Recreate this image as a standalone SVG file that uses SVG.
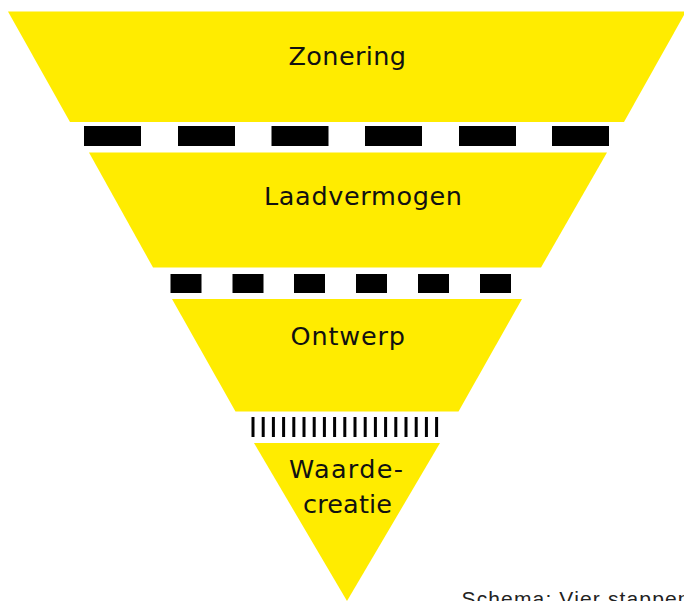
<svg xmlns="http://www.w3.org/2000/svg" width="684" height="601" viewBox="0 0 684 601">
<style>
.stage{fill:#FFEC00;stroke:none}
.lbl{font-family:"DejaVu Sans","Liberation Sans",sans-serif;fill:#111}
.dash{fill:#000}
.cap{font-family:"Liberation Sans","DejaVu Sans",sans-serif;fill:#222}
</style>
<rect width="684" height="601" fill="#fff"/>
<g id="node-zonering">
<polygon class="stage" points="8,11.5 686,11.5 624,122 70,122"/>
<text class="lbl" x="288.5" y="64.5" font-size="25.5" textLength="117.5">Zonering</text>
</g>
<g id="node-laadvermogen">
<polygon class="stage" points="89,152.5 607,152.5 541,267.5 153,267.5"/>
<text class="lbl" x="264" y="204.5" font-size="25.5" textLength="198">Laadvermogen</text>
</g>
<g id="node-ontwerp">
<polygon class="stage" points="172,299 522,299 458.5,411.5 235.5,411.5"/>
<text class="lbl" x="290.5" y="344.5" font-size="25.5" textLength="114.5">Ontwerp</text>
</g>
<g id="node-waardecreatie">
<polygon class="stage" points="254,443 440,443 347,601"/>
<text class="lbl" x="289" y="478" font-size="25.5" textLength="114">Waarde-</text>
<text class="lbl" x="303" y="513" font-size="25.5" textLength="89">creatie</text>
</g>
<g id="connectors">
<g id="sep1" class="dash">
<rect x="84" y="126" width="57" height="20"/>
<rect x="178" y="126" width="57" height="20"/>
<rect x="271.5" y="126" width="57" height="20"/>
<rect x="365" y="126" width="57" height="20"/>
<rect x="459" y="126" width="57" height="20"/>
<rect x="552" y="126" width="57" height="20"/>
</g>
<g id="sep2" class="dash">
<rect x="170.5" y="274" width="31" height="19"/>
<rect x="232.5" y="274" width="31" height="19"/>
<rect x="294" y="274" width="31" height="19"/>
<rect x="356" y="274" width="31" height="19"/>
<rect x="418" y="274" width="31" height="19"/>
<rect x="480" y="274" width="31" height="19"/>
</g>
<g id="sep3" class="dash">
<rect x="251.5" y="417" width="3" height="20"/>
<rect x="261.7" y="417" width="3" height="20"/>
<rect x="271.9" y="417" width="3" height="20"/>
<rect x="282.1" y="417" width="3" height="20"/>
<rect x="292.3" y="417" width="3" height="20"/>
<rect x="302.5" y="417" width="3" height="20"/>
<rect x="312.7" y="417" width="3" height="20"/>
<rect x="322.9" y="417" width="3" height="20"/>
<rect x="333.1" y="417" width="3" height="20"/>
<rect x="343.3" y="417" width="3" height="20"/>
<rect x="353.5" y="417" width="3" height="20"/>
<rect x="363.7" y="417" width="3" height="20"/>
<rect x="373.9" y="417" width="3" height="20"/>
<rect x="384.1" y="417" width="3" height="20"/>
<rect x="394.3" y="417" width="3" height="20"/>
<rect x="404.5" y="417" width="3" height="20"/>
<rect x="414.7" y="417" width="3" height="20"/>
<rect x="424.9" y="417" width="3" height="20"/>
<rect x="435.1" y="417" width="3" height="20"/>
</g>
</g>
<text class="cap" x="461.5" y="606" font-size="21" textLength="228">Schema: Vier stappen</text>
</svg>
